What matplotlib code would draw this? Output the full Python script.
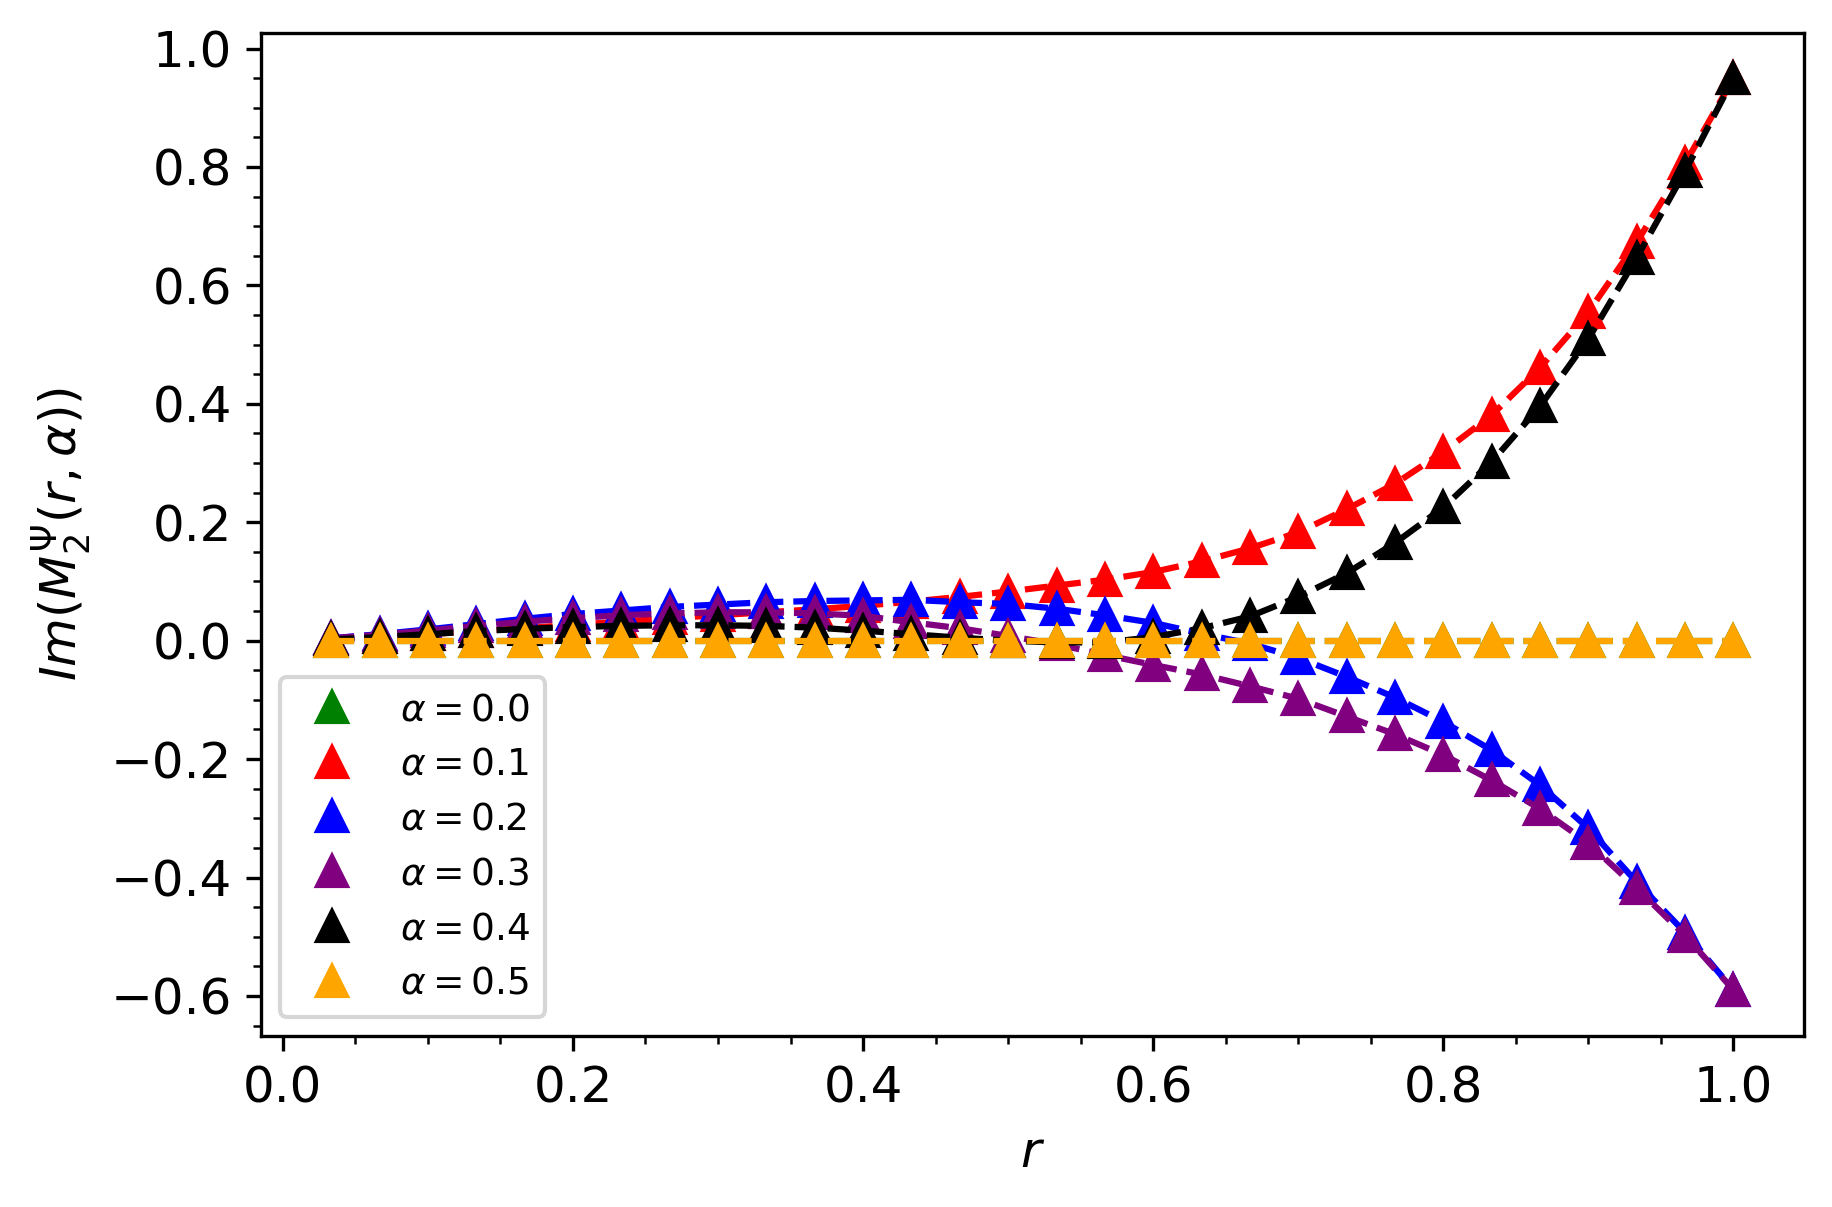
import numpy as np
import matplotlib
matplotlib.use("Agg")
import matplotlib.pyplot as plt
from matplotlib.ticker import AutoMinorLocator

# radial grid r = k/30
r = np.arange(1, 31) / 30.0

alphas = [0.0, 0.1, 0.2, 0.3, 0.4, 0.5]
colors = ["green", "red", "blue", "purple", "black", "orange"]

im_a00 = [0.0] * 30
im_a01 = [0.002, 0.006, 0.011, 0.016, 0.021, 0.027, 0.032, 0.038, 0.043, 0.048,
          0.053, 0.059, 0.066, 0.074, 0.083, 0.093, 0.103, 0.116, 0.134, 0.156,
          0.183, 0.222, 0.265, 0.319, 0.381, 0.461, 0.555, 0.673, 0.806, 0.950]
im_a02 = [0.004, 0.011, 0.019, 0.028, 0.037, 0.045, 0.051, 0.057, 0.061, 0.065,
          0.067, 0.068, 0.069, 0.065, 0.062, 0.054, 0.043, 0.030, 0.012, -0.005,
          -0.029, -0.061, -0.096, -0.137, -0.185, -0.244, -0.317, -0.408, -0.493, -0.590]
im_a03 = [0.004, 0.010, 0.017, 0.025, 0.032, 0.038, 0.043, 0.046, 0.048, 0.048,
          0.046, 0.042, 0.031, 0.021, 0.008, -0.006, -0.024, -0.041, -0.057, -0.077,
          -0.098, -0.128, -0.158, -0.193, -0.236, -0.284, -0.342, -0.418, -0.498, -0.590]
im_a04 = [0.002, 0.006, 0.011, 0.016, 0.020, 0.023, 0.025, 0.026, 0.026, 0.025,
          0.022, 0.017, 0.011, 0.005, 0.000, -0.003, -0.003, 0.006, 0.021, 0.041,
          0.074, 0.114, 0.165, 0.225, 0.302, 0.396, 0.510, 0.647, 0.793, 0.950]
im_a05 = [0.0] * 30

series = [im_a00, im_a01, im_a02, im_a03, im_a04, im_a05]

fig = plt.figure(figsize=(1832 / 300, 1207 / 300), dpi=300)
ax = fig.add_axes([0.1425, 0.142, 0.842, 0.831])

for a, c, y in zip(alphas, colors, series):
    ax.plot(r, y, "^", color=c, markersize=7, label=r"$\alpha = %.1f$" % a)
    ax.plot(r, y, "--", color=c, linewidth=1.5)

ax.xaxis.set_minor_locator(AutoMinorLocator())
ax.yaxis.set_minor_locator(AutoMinorLocator())
ax.tick_params(axis="both", which="major", labelsize=12)

ax.set_xlabel(r"$r$", fontsize=12)
ax.set_ylabel(r"$Im(M_2^{\Psi}(r,\alpha))$", fontsize=12)

ax.legend(loc="lower left", fontsize=9)

fig.savefig("out.png", dpi=300)
